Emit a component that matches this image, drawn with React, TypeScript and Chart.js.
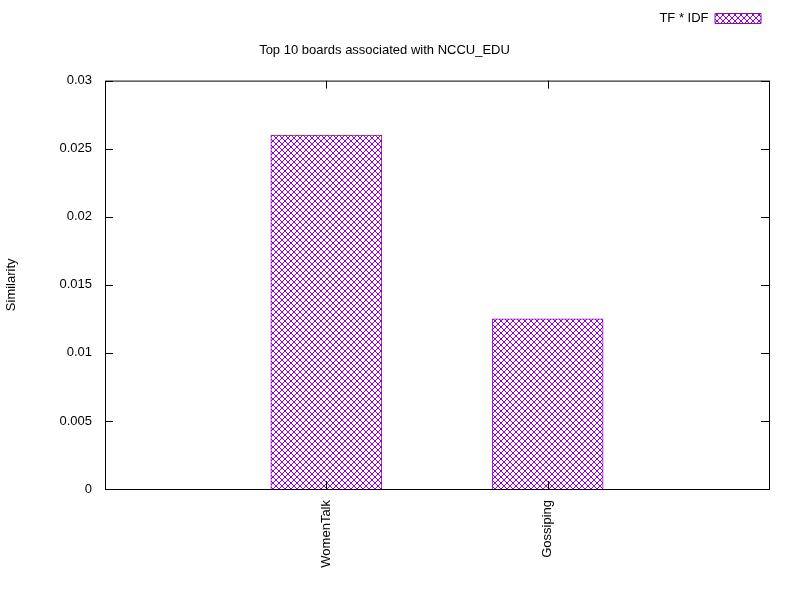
import { useEffect, useRef } from 'react'
import Chart from 'chart.js/auto'

const boards = ['WomenTalk', 'Gossiping']
const similarity = [0.026, 0.0125]
const yTicks = [0, 0.005, 0.01, 0.015, 0.02, 0.025, 0.03]
const seriesName = 'TF * IDF'
const titleText = 'Top 10 boards associated with NCCU_EDU'

const PURPLE = '#9400d3'
const FONT = 'Liberation Sans, Arial, sans-serif'

// gnuplot's x range runs one slot past each side of the bars
const slots = ['', ...boards, '']
const slotValues = [null, ...similarity, null]

function makeHatch(): CanvasPattern | string {
  const c = document.createElement('canvas')
  c.width = 6
  c.height = 6
  const ctx = c.getContext('2d')
  if (!ctx) return PURPLE
  ctx.fillStyle = '#fff'
  ctx.fillRect(0, 0, 6, 6)
  ctx.strokeStyle = PURPLE
  ctx.lineWidth = 1
  ctx.beginPath()
  ctx.moveTo(0, 0)
  ctx.lineTo(6, 6)
  ctx.moveTo(6, 0)
  ctx.lineTo(0, 6)
  ctx.stroke()
  return ctx.createPattern(c, 'repeat') || PURPLE
}

// gnuplot-style frame with inward ticks
const framePlugin = {
  id: 'frame',
  afterDatasetsDraw(chart: any) {
    const { ctx, chartArea: a, scales } = chart
    ctx.save()
    ctx.strokeStyle = '#000'
    ctx.lineWidth = 1
    ctx.strokeRect(a.left + 0.5, a.top + 0.5, a.right - a.left, a.bottom - a.top)
    ctx.beginPath()
    yTicks.forEach((v) => {
      const y = Math.round(scales.y.getPixelForValue(v)) + 0.5
      ctx.moveTo(a.left, y)
      ctx.lineTo(a.left + 8, y)
      ctx.moveTo(a.right, y)
      ctx.lineTo(a.right - 8, y)
    })
    boards.forEach((_, i) => {
      const x = Math.round(scales.x.getPixelForValue(i + 1)) + 0.5
      ctx.moveTo(x, a.bottom)
      ctx.lineTo(x, a.bottom - 8)
      ctx.moveTo(x, a.top)
      ctx.lineTo(x, a.top + 8)
    })
    ctx.stroke()
    ctx.restore()
  },
}

export default function App() {
  const chartRef = useRef<HTMLCanvasElement>(null)

  useEffect(() => {
    document.body.style.margin = '0'
    if (!chartRef.current) return
    const hatch = makeHatch()
    const chart = new Chart(chartRef.current, {
      type: 'bar',
      data: {
        labels: slots,
        datasets: [
          {
            label: seriesName,
            data: slotValues,
            backgroundColor: hatch as any,
            borderColor: PURPLE,
            borderWidth: 1,
            barThickness: 111,
          },
        ],
      },
      options: {
        responsive: false,
        animation: false,
        layout: { padding: { right: 31, top: 4 } },
        plugins: {
          legend: {
            position: 'top',
            align: 'start',
            rtl: true,
            labels: {
              boxWidth: 46,
              boxHeight: 10,
              color: '#000',
              font: { family: FONT, size: 13 },
              padding: 8,
            },
          },
          title: {
            display: true,
            text: titleText,
            weight: 500,
            color: '#000',
            font: { family: FONT, size: 13, weight: 'normal' },
            padding: { top: 8, bottom: 22 },
          } as any,
          tooltip: { enabled: false },
        },
        scales: {
          x: {
            offset: false,
            grid: { display: false, offset: false },
            border: { display: false },
            afterFit: (s: any) => {
              s.height = 111
            },
            ticks: {
              autoSkip: false,
              maxRotation: 90,
              minRotation: 90,
              color: '#000',
              font: { family: FONT, size: 13 },
            },
          },
          y: {
            min: 0,
            max: 0.03,
            grid: { display: false },
            border: { display: false },
            afterBuildTicks: (s: any) => {
              s.ticks = yTicks.map((v) => ({ value: v }))
            },
            afterFit: (s: any) => {
              s.width = 105
            },
            title: {
              display: true,
              text: 'Similarity',
              color: '#000',
              padding: { top: 4, bottom: 0 },
              font: { family: FONT, size: 13 },
            },
            ticks: {
              color: '#000',
              padding: 5,
              font: { family: FONT, size: 13 },
              callback: (v: any) => String(Number(Number(v).toFixed(4))),
            },
          },
        },
      },
      plugins: [framePlugin],
    })
    return () => chart.destroy()
  }, [])

  return <canvas ref={chartRef} width={800} height={600} />
}
